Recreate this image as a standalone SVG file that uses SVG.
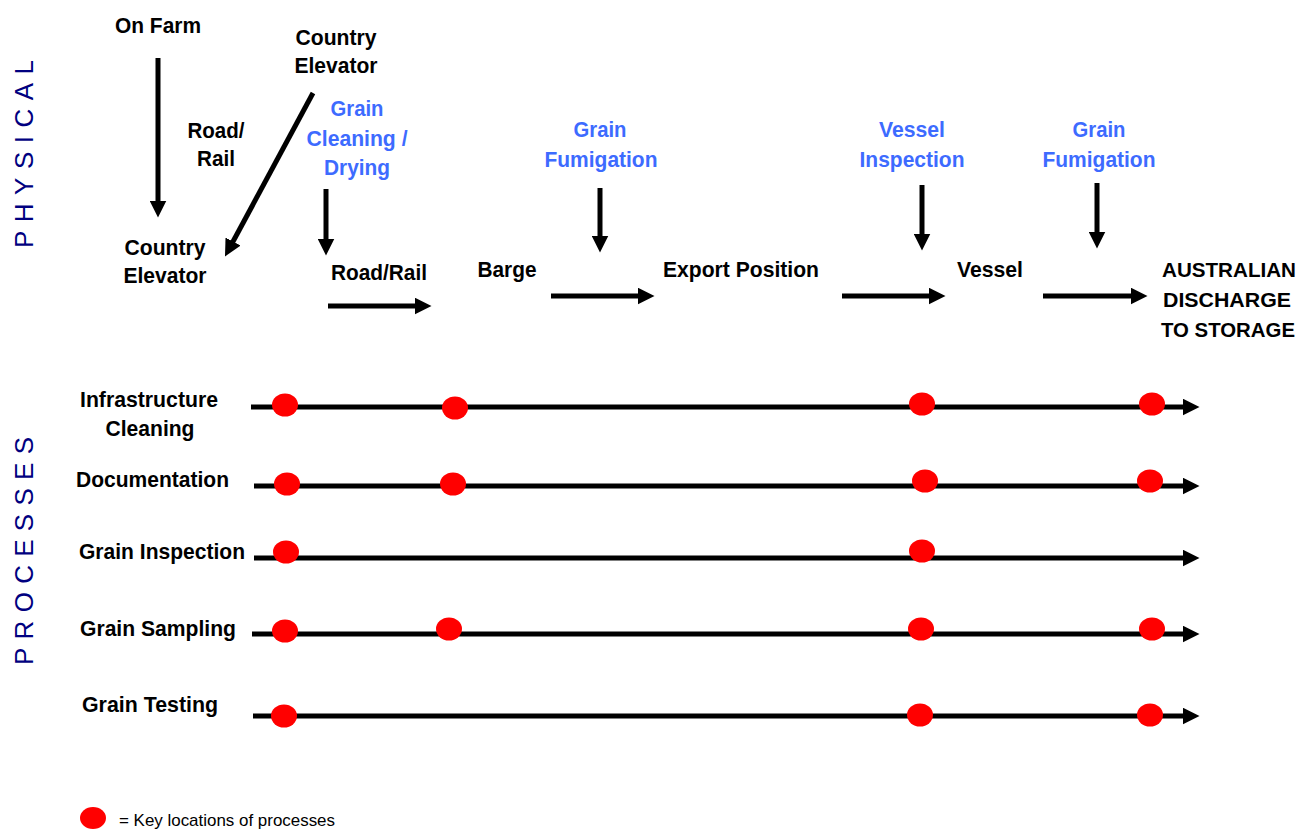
<svg xmlns="http://www.w3.org/2000/svg" width="1303" height="829" viewBox="0 0 1303 829">
<style>
.t{font-family:"Liberation Sans Narrow","Liberation Sans",Arial,sans-serif;font-size:22px;font-weight:bold;fill:#000;text-anchor:middle}
.b{fill:#3d6bff}
.l{text-anchor:start}
.s{font-size:21px}
.side{font-family:"Liberation Sans",Arial,sans-serif;font-size:26px;fill:#000080;text-anchor:middle}
.leg{font-family:"Liberation Sans Narrow","Liberation Sans",Arial,sans-serif;font-size:17px;fill:#000}
.ar{stroke:#000;stroke-width:5;fill:none;marker-end:url(#ah)}
.dot{fill:#ff0000}
</style>
<defs>
<marker id="ah" viewBox="0 0 10 10" refX="5" refY="5" markerWidth="3.4" markerHeight="3.4" orient="auto" markerUnits="strokeWidth">
<path d="M0,0 L10,5 L0,10 z" fill="#000"/>
</marker>
</defs>
<rect width="1303" height="829" fill="#fff"/>
<g id="side-labels">
<text class="side" transform="translate(33,154) rotate(-90)" textLength="188" lengthAdjust="spacing">PHYSICAL</text>
<text class="side" transform="translate(33,551) rotate(-90)" textLength="228" lengthAdjust="spacing">PROCESSES</text>
</g>
<g id="n-onfarm"><text class="t" x="158" y="33" textLength="86" lengthAdjust="spacingAndGlyphs">On Farm</text></g>
<g id="n-country-elevator-top"><text class="t" x="336" y="45" textLength="81" lengthAdjust="spacingAndGlyphs">Country</text><text class="t" x="336" y="73" textLength="83" lengthAdjust="spacingAndGlyphs">Elevator</text></g>
<g id="n-roadrail1"><text class="t" x="216" y="138" textLength="57" lengthAdjust="spacingAndGlyphs">Road/</text><text class="t" x="216" y="166" textLength="38" lengthAdjust="spacingAndGlyphs">Rail</text></g>
<g id="n-country-elevator"><text class="t" x="165" y="255" textLength="81" lengthAdjust="spacingAndGlyphs">Country</text><text class="t" x="165" y="283" textLength="83" lengthAdjust="spacingAndGlyphs">Elevator</text></g>
<g id="n-cleaning"><text class="t b" x="357" y="116" textLength="53" lengthAdjust="spacingAndGlyphs">Grain</text><text class="t b" x="357" y="146" textLength="101" lengthAdjust="spacingAndGlyphs">Cleaning /</text><text class="t b" x="357" y="175" textLength="66" lengthAdjust="spacingAndGlyphs">Drying</text></g>
<g id="n-roadrail2"><text class="t" x="379" y="280" textLength="96" lengthAdjust="spacingAndGlyphs">Road/Rail</text></g>
<g id="n-fum1"><text class="t b" x="600" y="137" textLength="53" lengthAdjust="spacingAndGlyphs">Grain</text><text class="t b" x="601" y="167" textLength="113" lengthAdjust="spacingAndGlyphs">Fumigation</text></g>
<g id="n-barge"><text class="t" x="507" y="277" textLength="59" lengthAdjust="spacingAndGlyphs">Barge</text></g>
<g id="n-export"><text class="t" x="741" y="277" textLength="156" lengthAdjust="spacingAndGlyphs">Export Position</text></g>
<g id="n-vinsp"><text class="t b" x="912" y="137" textLength="66" lengthAdjust="spacingAndGlyphs">Vessel</text><text class="t b" x="912" y="167" textLength="105" lengthAdjust="spacingAndGlyphs">Inspection</text></g>
<g id="n-vessel"><text class="t" x="990" y="277" textLength="66" lengthAdjust="spacingAndGlyphs">Vessel</text></g>
<g id="n-fum2"><text class="t b" x="1099" y="137" textLength="53" lengthAdjust="spacingAndGlyphs">Grain</text><text class="t b" x="1099" y="167" textLength="113" lengthAdjust="spacingAndGlyphs">Fumigation</text></g>
<g id="n-aus"><text class="t s" x="1229" y="277" textLength="134" lengthAdjust="spacingAndGlyphs">AUSTRALIAN</text><text class="t s" x="1227" y="307" textLength="128" lengthAdjust="spacingAndGlyphs">DISCHARGE</text><text class="t s" x="1228" y="337" textLength="134" lengthAdjust="spacingAndGlyphs">TO STORAGE</text></g>
<g id="p-labels">
<text class="t" x="149" y="407" textLength="138" lengthAdjust="spacingAndGlyphs">Infrastructure</text>
<text class="t" x="150" y="436" textLength="89" lengthAdjust="spacingAndGlyphs">Cleaning</text>
<text class="t l" x="76" y="487" textLength="153" lengthAdjust="spacingAndGlyphs">Documentation</text>
<text class="t l" x="79" y="559" textLength="166" lengthAdjust="spacingAndGlyphs">Grain Inspection</text>
<text class="t l" x="80" y="636" textLength="156" lengthAdjust="spacingAndGlyphs">Grain Sampling</text>
<text class="t l" x="82" y="712" textLength="136" lengthAdjust="spacingAndGlyphs">Grain Testing</text>
</g>
<g id="connectors">
<path class="ar" d="M158,58 V209"/>
<path class="ar" d="M313,93 L229,249"/>
<path class="ar" d="M326,189 V247"/>
<path class="ar" d="M328,306 H423"/>
<path class="ar" d="M600,188 V244"/>
<path class="ar" d="M551,296 H646"/>
<path class="ar" d="M922,185 V242"/>
<path class="ar" d="M842,296 H937"/>
<path class="ar" d="M1097,183 V240"/>
<path class="ar" d="M1043,296 H1139"/>
<path class="ar" d="M251,407 H1191"/>
<path class="ar" d="M254,486 H1191"/>
<path class="ar" d="M254,558 H1191"/>
<path class="ar" d="M252,634 H1191"/>
<path class="ar" d="M253,716 H1191"/>
</g>
<g id="dots">
<ellipse class="dot" cx="285" cy="405" rx="13" ry="11.5"/>
<ellipse class="dot" cx="455" cy="408" rx="13" ry="11.5"/>
<ellipse class="dot" cx="922" cy="404" rx="13" ry="11.5"/>
<ellipse class="dot" cx="1152" cy="404" rx="13" ry="11.5"/>
<ellipse class="dot" cx="287" cy="484" rx="13" ry="11.5"/>
<ellipse class="dot" cx="453" cy="484" rx="13" ry="11.5"/>
<ellipse class="dot" cx="925" cy="481" rx="13" ry="11.5"/>
<ellipse class="dot" cx="1150" cy="481" rx="13" ry="11.5"/>
<ellipse class="dot" cx="286" cy="552" rx="13" ry="11.5"/>
<ellipse class="dot" cx="922" cy="551" rx="13" ry="11.5"/>
<ellipse class="dot" cx="285" cy="631" rx="13" ry="11.5"/>
<ellipse class="dot" cx="449" cy="629" rx="13" ry="11.5"/>
<ellipse class="dot" cx="921" cy="629" rx="13" ry="11.5"/>
<ellipse class="dot" cx="1152" cy="629" rx="13" ry="11.5"/>
<ellipse class="dot" cx="284" cy="716" rx="13" ry="11.5"/>
<ellipse class="dot" cx="920" cy="715" rx="13" ry="11.5"/>
<ellipse class="dot" cx="1150" cy="715" rx="13" ry="11.5"/>
</g>
<g id="legend">
<ellipse class="dot" cx="93" cy="818" rx="13" ry="11"/>
<text class="leg" x="119" y="826" textLength="216" lengthAdjust="spacingAndGlyphs">= Key locations of processes</text>
</g>
</svg>
